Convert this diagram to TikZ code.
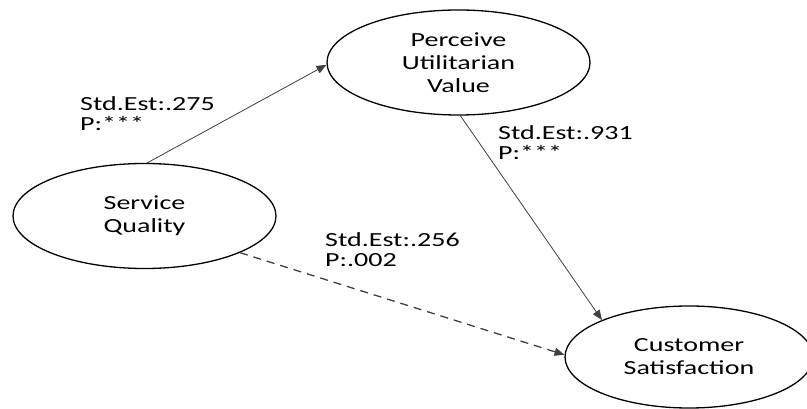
\documentclass[tikz,border=0pt]{standalone}
\usepackage{fontspec}
\setmainfont{Carlito}[FakeStretch=1.4]
\usetikzlibrary{shapes.geometric,arrows.meta}

\begin{document}
\begin{tikzpicture}[x=1pt,y=-1pt,
  construct/.style={draw=black, line width=1.3pt, ellipse, inner sep=0pt,
    minimum width=263pt, minimum height=105pt, align=center,
    font=\fontsize{20}{23}\selectfont},
  estimate/.style={inner sep=0pt, align=left, anchor=west,
    font=\fontsize{20}{20}\selectfont},
  path/.style={draw=black!75, line width=0.8pt, -{Triangle[length=10pt,width=8pt]}},
  weakpath/.style={draw=black!75, line width=1.3pt, dash pattern=on 8pt off 6pt,
    -{Triangle[length=10pt,width=8pt]}}
]
\useasboundingbox (0,0) rectangle (807,409);

% latent constructs
\node[construct] (puv) at (458.5,62.5) {Perceive\\Utilitarian\\Value};
\node[construct] (sq)  at (144.5,216)  {Service\\Quality};
\node[construct, minimum width=248pt, minimum height=102pt] (cs) at (689,357) {Customer\\Satisfaction};

% structural paths
\draw[path] (sq.87) -- (puv.181);
\draw[path] (puv.-88) -- (cs.157);
\draw[weakpath] (sq.-21.6) -- (cs.179);

% path estimates
\node[estimate] (e1) at (80,114)  {Std.Est:.275\\P:***};
\node[estimate] (e2) at (498,143) {Std.Est:.931\\P:***};
\node[estimate] (e3) at (325,250) {Std.Est:.256\\P:.002};
\end{tikzpicture}
\end{document}
